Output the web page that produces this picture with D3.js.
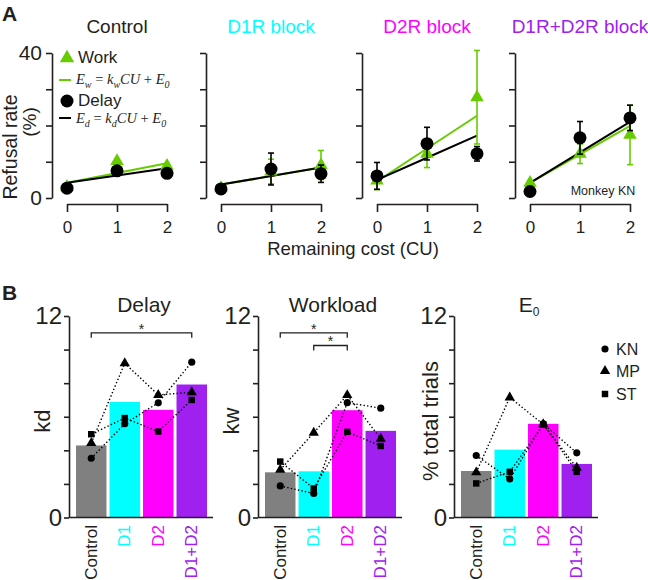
<!DOCTYPE html>
<html>
<head>
<meta charset="utf-8">
<script src="https://cdn.jsdelivr.net/npm/d3@7"></script>
<style>
  body { margin: 0; background: #fff; }
  text { font-family: "Liberation Sans", Arial, sans-serif; fill: #231f20; }
</style>
</head>
<body>
<div id="chart"></div>
<script>
// ---- panel A data (refusal rate vs remaining cost, monkey KN) ----
const costs = [0, 1, 2];
const conditions = ["Control", "D1R block", "D2R block", "D1R+D2R block"];
const conditionColors = ["#231f20", "#00ffff", "#ff00ff", "#a020f0"];
const workRate = [[3.1, 10.2, 8.9], [2.7, 7.3, 9.1], [4.8, 12.2, 27.8], [4.2, 12.2, 17.4]];
const workErr = [[0.4, 0.5, 0.5], [0.8, 3.4, 4.0], [2.5, 3.8, 12.9], [0.5, 2.7, 8.2]];
const delayRate = [[2.7, 7.5, 6.8], [2.5, 8.0, 6.7], [6.1, 15.0, 12.2], [1.8, 16.6, 22.1]];
const delayErr = [[0.4, 0.5, 0.5], [0.5, 4.4, 2.4], [3.7, 4.5, 2.0], [0.5, 4.5, 3.5]];
// [intercept E0, slope k]
const workFit = [[4.2, 2.7], [3.7, 2.35], [4.6, 9.05], [4.2, 7.85]];
const delayFit = [[4.2, 2.0], [3.7, 2.35], [5.0, 6.1], [4.2, 8.4]];

// ---- panel B data ----
const groups = ["Control", "D1", "D2", "D1+D2"];
const barColors = ["#808080", "#00ffff", "#ff00ff", "#a020f0"];
const groupLabelColors = ["#231f20", "#00ffff", "#ff00ff", "#a020f0"];
const kdMean = [4.29, 6.88, 6.41, 7.92];
const kdKN = [3.53, 5.58, 6.83, 9.25];
const kdMP = [4.43, 9.19, 7.30, 7.46];
const kdST = [4.96, 5.92, 5.12, 7.0];
const kwMean = [2.69, 2.75, 6.39, 5.16];
const kwKN = [1.88, 1.43, 6.84, 6.51];
const kwMP = [2.84, 5.05, 7.29, 4.69];
const kwST = [3.33, 1.73, 5.10, 4.26];
const e0Mean = [2.77, 4.04, 5.58, 3.19];
const e0KN = [3.69, 2.30, 5.58, 3.85];
const e0MP = [2.69, 7.15, 5.55, 2.96];
const e0ST = [2.03, 2.72, 5.54, 2.72];
const kdSig = [["Control", "D1+D2"]];
const kwSig = [["Control", "D2"], ["D1", "D2"]];
const e0Sig = [];
const monkeys = ["KN", "MP", "ST"];

const green = "#66cc00";
const width = 648, height = 580;

const svg = d3.select("#chart").append("svg")
  .attr("width", width)
  .attr("height", height);

function styleAxis(g, size) {
  g.select(".domain").attr("stroke", "#231f20").attr("stroke-width", 1.6);
  g.selectAll(".tick line").attr("stroke", "#231f20").attr("stroke-width", 1.6);
  g.selectAll(".tick text")
    .attr("fill", "#231f20")
    .attr("font-size", size)
    .attr("font-family", "Liberation Sans, Arial, sans-serif");
}

// panel letters
svg.append("text").attr("x", 2).attr("y", 21).attr("font-size", 21).attr("font-weight", "bold").text("A");
svg.append("text").attr("x", 2).attr("y", 300).attr("font-size", 21).attr("font-weight", "bold").text("B");

// ================= Panel A =================
const yA = d3.scaleLinear().domain([0, 40]).range([198, 53]);
const panelAX = [52, 206, 362, 515];
const triangle = d3.symbol().type(d3.symbolTriangle);

conditions.forEach((name, i) => {
  const g = svg.append("g").attr("transform", `translate(${panelAX[i]},0)`);
  const x = d3.scaleLinear().domain([0, 2]).range([15, 115]);

  g.append("text")
    .attr("x", 65).attr("y", 33)
    .attr("text-anchor", "middle")
    .attr("font-size", 19)
    .style("fill", conditionColors[i])
    .text(name);

  const yAxis = g.append("g")
    .call(d3.axisLeft(yA).tickValues([0, 10, 20, 30, 40]).tickSize(6).tickSizeOuter(0).tickPadding(4)
      .tickFormat(d => (i === 0 && (d === 0 || d === 40)) ? d : ""));
  styleAxis(yAxis, 21);

  const xAxis = g.append("g")
    .attr("transform", "translate(0,204)")
    .call(d3.axisBottom(x).tickValues(costs).tickSize(8).tickSizeOuter(0).tickPadding(9).tickFormat(d3.format("d")));
  styleAxis(xAxis, 17);

  const fitLine = d3.line().x(d => x(d[0])).y(d => yA(d[1]));
  g.append("path")
    .datum(costs.map(c => [c, workFit[i][0] + workFit[i][1] * c]))
    .attr("d", fitLine).attr("fill", "none").attr("stroke", green).attr("stroke-width", 2);
  g.append("path")
    .datum(costs.map(c => [c, delayFit[i][0] + delayFit[i][1] * c]))
    .attr("d", fitLine).attr("fill", "none").attr("stroke", "#000").attr("stroke-width", 2);

  function errorBars(vals, errs, color) {
    const eb = g.append("g").attr("stroke", color).attr("stroke-width", 1.6);
    costs.forEach((c, j) => {
      const lo = yA(vals[j] - errs[j]), hi = yA(vals[j] + errs[j]);
      eb.append("line").attr("x1", x(c)).attr("x2", x(c)).attr("y1", lo).attr("y2", hi);
      eb.append("line").attr("x1", x(c) - 3).attr("x2", x(c) + 3).attr("y1", lo).attr("y2", lo);
      eb.append("line").attr("x1", x(c) - 3).attr("x2", x(c) + 3).attr("y1", hi).attr("y2", hi);
    });
  }

  errorBars(workRate[i], workErr[i], green);
  g.selectAll(".work").data(costs).join("path")
    .attr("class", "work")
    .attr("d", triangle.size(80))
    .attr("transform", (c, j) => `translate(${x(c)},${yA(workRate[i][j])})`)
    .attr("fill", green);

  errorBars(delayRate[i], delayErr[i], "#000");
  g.selectAll(".delay").data(costs).join("circle")
    .attr("class", "delay")
    .attr("cx", c => x(c))
    .attr("cy", (c, j) => yA(delayRate[i][j]))
    .attr("r", 6.5)
    .attr("fill", "#000");
});

// y label panel A
svg.append("text")
  .attr("transform", "translate(17,147) rotate(-90)")
  .attr("text-anchor", "middle").attr("font-size", 19.5)
  .text("Refusal rate");
svg.append("text")
  .attr("transform", "translate(36,122) rotate(-90)")
  .attr("text-anchor", "middle").attr("font-size", 19)
  .text("(%)");

svg.append("text")
  .attr("x", 353).attr("y", 255)
  .attr("text-anchor", "middle").attr("font-size", 18.5)
  .text("Remaining cost (CU)");

svg.append("text")
  .attr("x", 603).attr("y", 195)
  .attr("text-anchor", "middle").attr("font-size", 12.5)
  .text("Monkey KN");

// legend panel A
const leg = svg.append("g");
leg.append("path").attr("d", triangle.size(90)).attr("transform", "translate(67,58)").attr("fill", green);
leg.append("text").attr("x", 78).attr("y", 63).attr("font-size", 17).text("Work");
leg.append("line").attr("x1", 59).attr("x2", 71).attr("y1", 80).attr("y2", 80).attr("stroke", green).attr("stroke-width", 2);
leg.append("circle").attr("cx", 67).attr("cy", 101).attr("r", 6.5).attr("fill", "#000");
leg.append("text").attr("x", 78).attr("y", 106).attr("font-size", 17).text("Delay");
leg.append("line").attr("x1", 59).attr("x2", 71).attr("y1", 118).attr("y2", 118).attr("stroke", "#000").attr("stroke-width", 2);

function equation(y, sub) {
  const t = leg.append("text").attr("x", 76).attr("y", y)
    .attr("font-style", "italic").attr("font-size", 14.5)
    .style("font-family", "Liberation Serif, Times New Roman, serif");
  t.append("tspan").text("E");
  t.append("tspan").attr("dy", 4).attr("font-size", 10).text(sub);
  t.append("tspan").attr("dy", -4).attr("font-style", "normal").text(" = ");
  t.append("tspan").text("k");
  t.append("tspan").attr("dy", 4).attr("font-size", 10).text(sub);
  t.append("tspan").attr("dy", -4).text("CU");
  t.append("tspan").attr("font-style", "normal").text(" + ");
  t.append("tspan").text("E");
  t.append("tspan").attr("dy", 4).attr("font-size", 10).text("0");
}
equation(84, "w");
equation(123, "d");

// ================= Panel B =================
const yB = d3.scaleLinear().domain([0, 12]).range([517.5, 316]);
const panelBX = [69, 258, 454];
const panelsB = [
  { title: "Delay", ylabel: "kd", mean: kdMean, KN: kdKN, MP: kdMP, ST: kdST, sig: kdSig },
  { title: "Workload", ylabel: "kw", mean: kwMean, KN: kwKN, MP: kwMP, ST: kwST, sig: kwSig },
  { title: "E", sub: "0", ylabel: "% total trials", mean: e0Mean, KN: e0KN, MP: e0MP, ST: e0ST, sig: e0Sig }
];
const markerPath = {
  KN: d3.symbol().type(d3.symbolCircle).size(40)(),
  MP: d3.symbol().type(d3.symbolTriangle).size(46)(),
  ST: d3.symbol().type(d3.symbolSquare).size(42)()
};

panelsB.forEach((p, i) => {
  const g = svg.append("g").attr("transform", `translate(${panelBX[i]},0)`);
  const x = d3.scaleBand().domain(groups).range([7, 138]).paddingInner(0.09).paddingOuter(0);
  const cx = d => x(d) + x.bandwidth() / 2;

  const title = g.append("text")
    .attr("x", 75).attr("y", 312)
    .attr("text-anchor", "middle").attr("font-size", 21)
    .text(p.title);
  if (p.sub) title.append("tspan").attr("dy", 4).attr("font-size", 12).text(p.sub);

  g.selectAll(".bar").data(groups).join("rect")
    .attr("class", "bar")
    .attr("x", d => x(d))
    .attr("width", x.bandwidth())
    .attr("y", (d, j) => yB(p.mean[j]))
    .attr("height", (d, j) => yB(0) - yB(p.mean[j]))
    .attr("fill", (d, j) => barColors[j]);

  const yAxis = g.append("g")
    .call(d3.axisLeft(yB).tickValues([0, 2, 4, 6, 8, 10, 12]).tickSize(5).tickSizeOuter(0).tickPadding(2)
      .tickFormat(d => (d === 0 || d === 12) ? d : ""));
  styleAxis(yAxis, 24);

  g.append("line")
    .attr("x1", 0).attr("x2", 144)
    .attr("y1", yB(0)).attr("y2", yB(0))
    .attr("stroke", "#231f20").attr("stroke-width", 1.6);

  g.selectAll(".cat").data(groups).join("text")
    .attr("class", "cat")
    .attr("transform", d => `translate(${cx(d)},525) rotate(-90)`)
    .attr("text-anchor", "end")
    .attr("dominant-baseline", "central")
    .attr("font-size", 17)
    .style("fill", (d, j) => groupLabelColors[j])
    .text(d => d);

  g.append("text")
    .attr("transform", `translate(${i === 2 ? -16 : -19},421) rotate(-90)`)
    .attr("text-anchor", "middle").attr("font-size", 22)
    .text(p.ylabel);

  monkeys.forEach(m => {
    const pts = groups.map((gr, j) => [cx(gr), yB(p[m][j])]);
    g.append("path")
      .datum(pts)
      .attr("d", d3.line())
      .attr("fill", "none").attr("stroke", "#000")
      .attr("stroke-width", 1.4).attr("stroke-dasharray", "1.4,2.2");
    g.selectAll(".m" + m).data(pts).join("path")
      .attr("class", "m" + m)
      .attr("d", markerPath[m])
      .attr("transform", d => `translate(${d[0]},${d[1]})`)
      .attr("fill", "#000");
  });

  p.sig.forEach((s, k) => {
    const yb = yB(11) + k * 12.7;
    const x1 = cx(s[0]), x2 = cx(s[1]);
    g.append("path")
      .attr("d", `M${x1},${yb + 5}V${yb}H${x2}V${yb + 5}`)
      .attr("fill", "none").attr("stroke", "#231f20").attr("stroke-width", 1.3);
    g.append("text")
      .attr("x", (x1 + x2) / 2).attr("y", yb + 1)
      .attr("text-anchor", "middle").attr("font-size", 14)
      .text("*");
  });
});

// legend panel B
const legB = svg.append("g");
monkeys.forEach((m, k) => {
  const yy = [349, 371, 394][k];
  legB.append("path").attr("d", markerPath[m]).attr("transform", `translate(605,${yy})`).attr("fill", "#000");
  legB.append("text").attr("x", 616).attr("y", yy + 6).attr("font-size", 16).text(m);
});
</script>
</body>
</html>
